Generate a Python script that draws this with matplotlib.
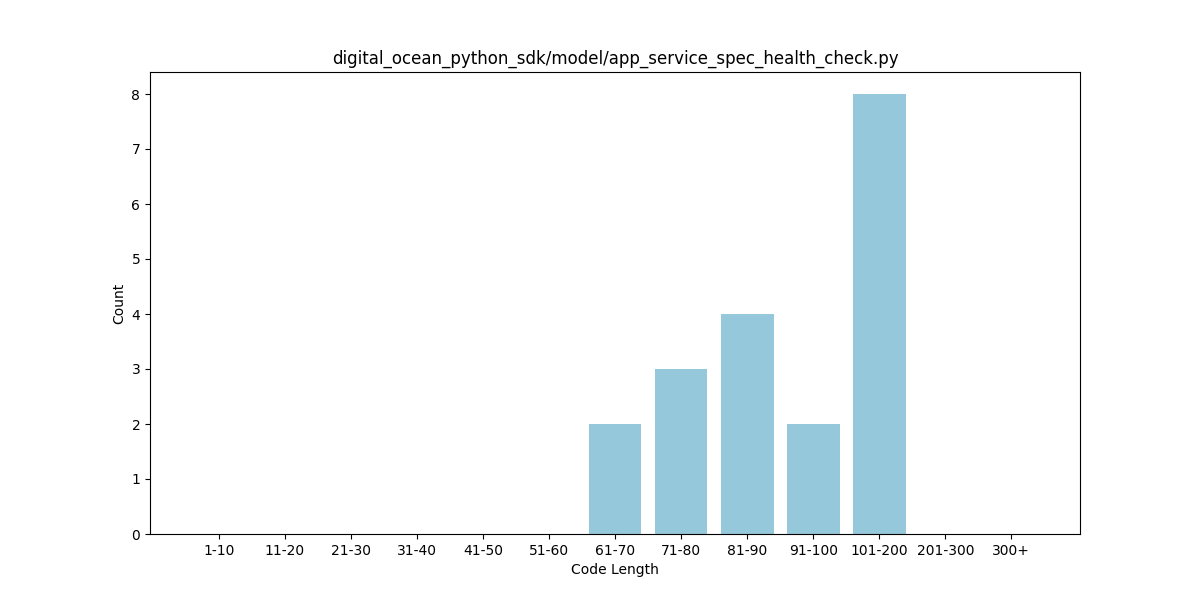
import matplotlib
matplotlib.use("Agg")
import matplotlib.pyplot as plt

# data
bins = ["1-10", "11-20", "21-30", "31-40", "41-50", "51-60", "61-70",
        "71-80", "81-90", "91-100", "101-200", "201-300", "300+"]
counts = [0, 0, 0, 0, 0, 0, 2, 3, 4, 2, 8, 0, 0]

fig, ax = plt.subplots(figsize=(12, 6), dpi=100)
ax.bar(bins, counts, color="#96c8dc")
ax.set_title("digital_ocean_python_sdk/model/app_service_spec_health_check.py")
ax.set_xlabel("Code Length")
ax.set_ylabel("Count")

fig.savefig("out.png")
